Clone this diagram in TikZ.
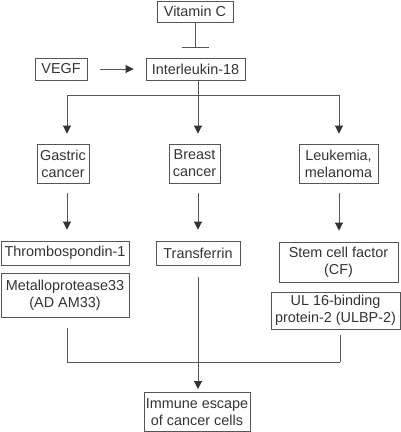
\documentclass[tikz,border=0pt]{standalone}
\usepackage{fontspec}
\setmainfont{Liberation Sans}
\usetikzlibrary{arrows.meta}
\definecolor{ink}{HTML}{333333}
\definecolor{ln}{HTML}{555555}
\tikzset{
  box/.style={draw=ln, line width=0.9pt, inner sep=0pt, align=center, text=ink,
    font=\fontsize{14.4}{17}\selectfont},
  conn/.style={draw=ln, line width=0.9pt},
  arr/.style={conn, -{Triangle[width=8pt,length=8pt,color=ink]}},
}
\begin{document}
\begin{tikzpicture}[x=1pt,y=-1pt]
\useasboundingbox (0,0) rectangle (401,432);
\node[box, minimum width=76pt, minimum height=21pt] (vitc) at (195,11.5) {Vitamin C};
\node[box, minimum width=52pt, minimum height=22pt] (vegf) at (61,69) {VEGF};
\node[box, minimum width=99pt, minimum height=22pt] (il) at (195.5,69) {Interleukin-18};
\node[box, minimum width=52pt, minimum height=39pt] (gastric) at (63,163.5) {Gastric\\cancer};
\node[box, minimum width=51pt, minimum height=39pt] (breast) at (194.5,163.5) {Breast\\cancer};
\node[box, minimum width=79pt, minimum height=39pt] (leuk) at (338.5,163.5) {Leukemia,\\melanoma};
\node[box, minimum width=128pt, minimum height=24pt] (thromb) at (65,253) {Thrombospondin-1};
\node[box, minimum width=128pt, minimum height=44pt] (metal) at (65,295) {Metalloprotease33\\(AD AM33)};
\node[box, minimum width=84pt, minimum height=24pt] (transf) at (198,253) {Transferrin};
\node[box, minimum width=119pt, minimum height=40pt] (stem) at (338.5,262) {Stem cell factor\\(CF)};
\node[box, minimum width=129pt, minimum height=37pt] (ulbp) at (335.5,310.5) {UL 16-binding\\protein-2 (ULBP-2)};
\node[box, minimum width=106pt, minimum height=39pt] (immune) at (197,412) {Immune escape\\of cancer cells};
% columns
\coordinate (c1) at (67,95);
\coordinate (c2) at (198,95);
\coordinate (c3) at (339,95);
\coordinate (bar) at (195,48);
\coordinate (j1) at (67,362);
\coordinate (j3) at (340,362);
% inhibition
\draw[conn, -{Bar[width=27pt]}] (vitc.south -| bar) -- (bar);
% VEGF -> IL18
\draw[arr, shorten <=13pt, shorten >=12pt] (vegf.east) -- (il.west);
% IL18 branches
\draw[arr, shorten >=10pt] (il.south -| c2) -- (breast.north -| c2);
\draw[conn] (c1) -- (c3);
\draw[arr, shorten >=10pt] (c1) -- (gastric.north -| c1);
\draw[arr, shorten >=10pt] (c3) -- (leuk.north -| c3);
% cancers -> factors
\draw[arr, shorten <=10pt, shorten >=11pt] (gastric.south -| c1) -- (thromb.north -| c1);
\draw[arr, shorten <=10pt, shorten >=11pt] (breast.south -| c2) -- (transf.north -| c2);
\draw[arr, shorten <=10pt, shorten >=11pt] (leuk.south -| c3) -- (stem.north -| c3);
% factors -> immune escape
\draw[conn, shorten <=11pt] (metal.south -| j1) -- (j1) -- (j3);
\draw[conn, shorten <=6pt] (ulbp.south -| j3) -- (j3);
\draw[arr, shorten <=12pt, shorten >=3pt] (transf.south -| c2) -- (immune.north -| c2);
\end{tikzpicture}
\end{document}
